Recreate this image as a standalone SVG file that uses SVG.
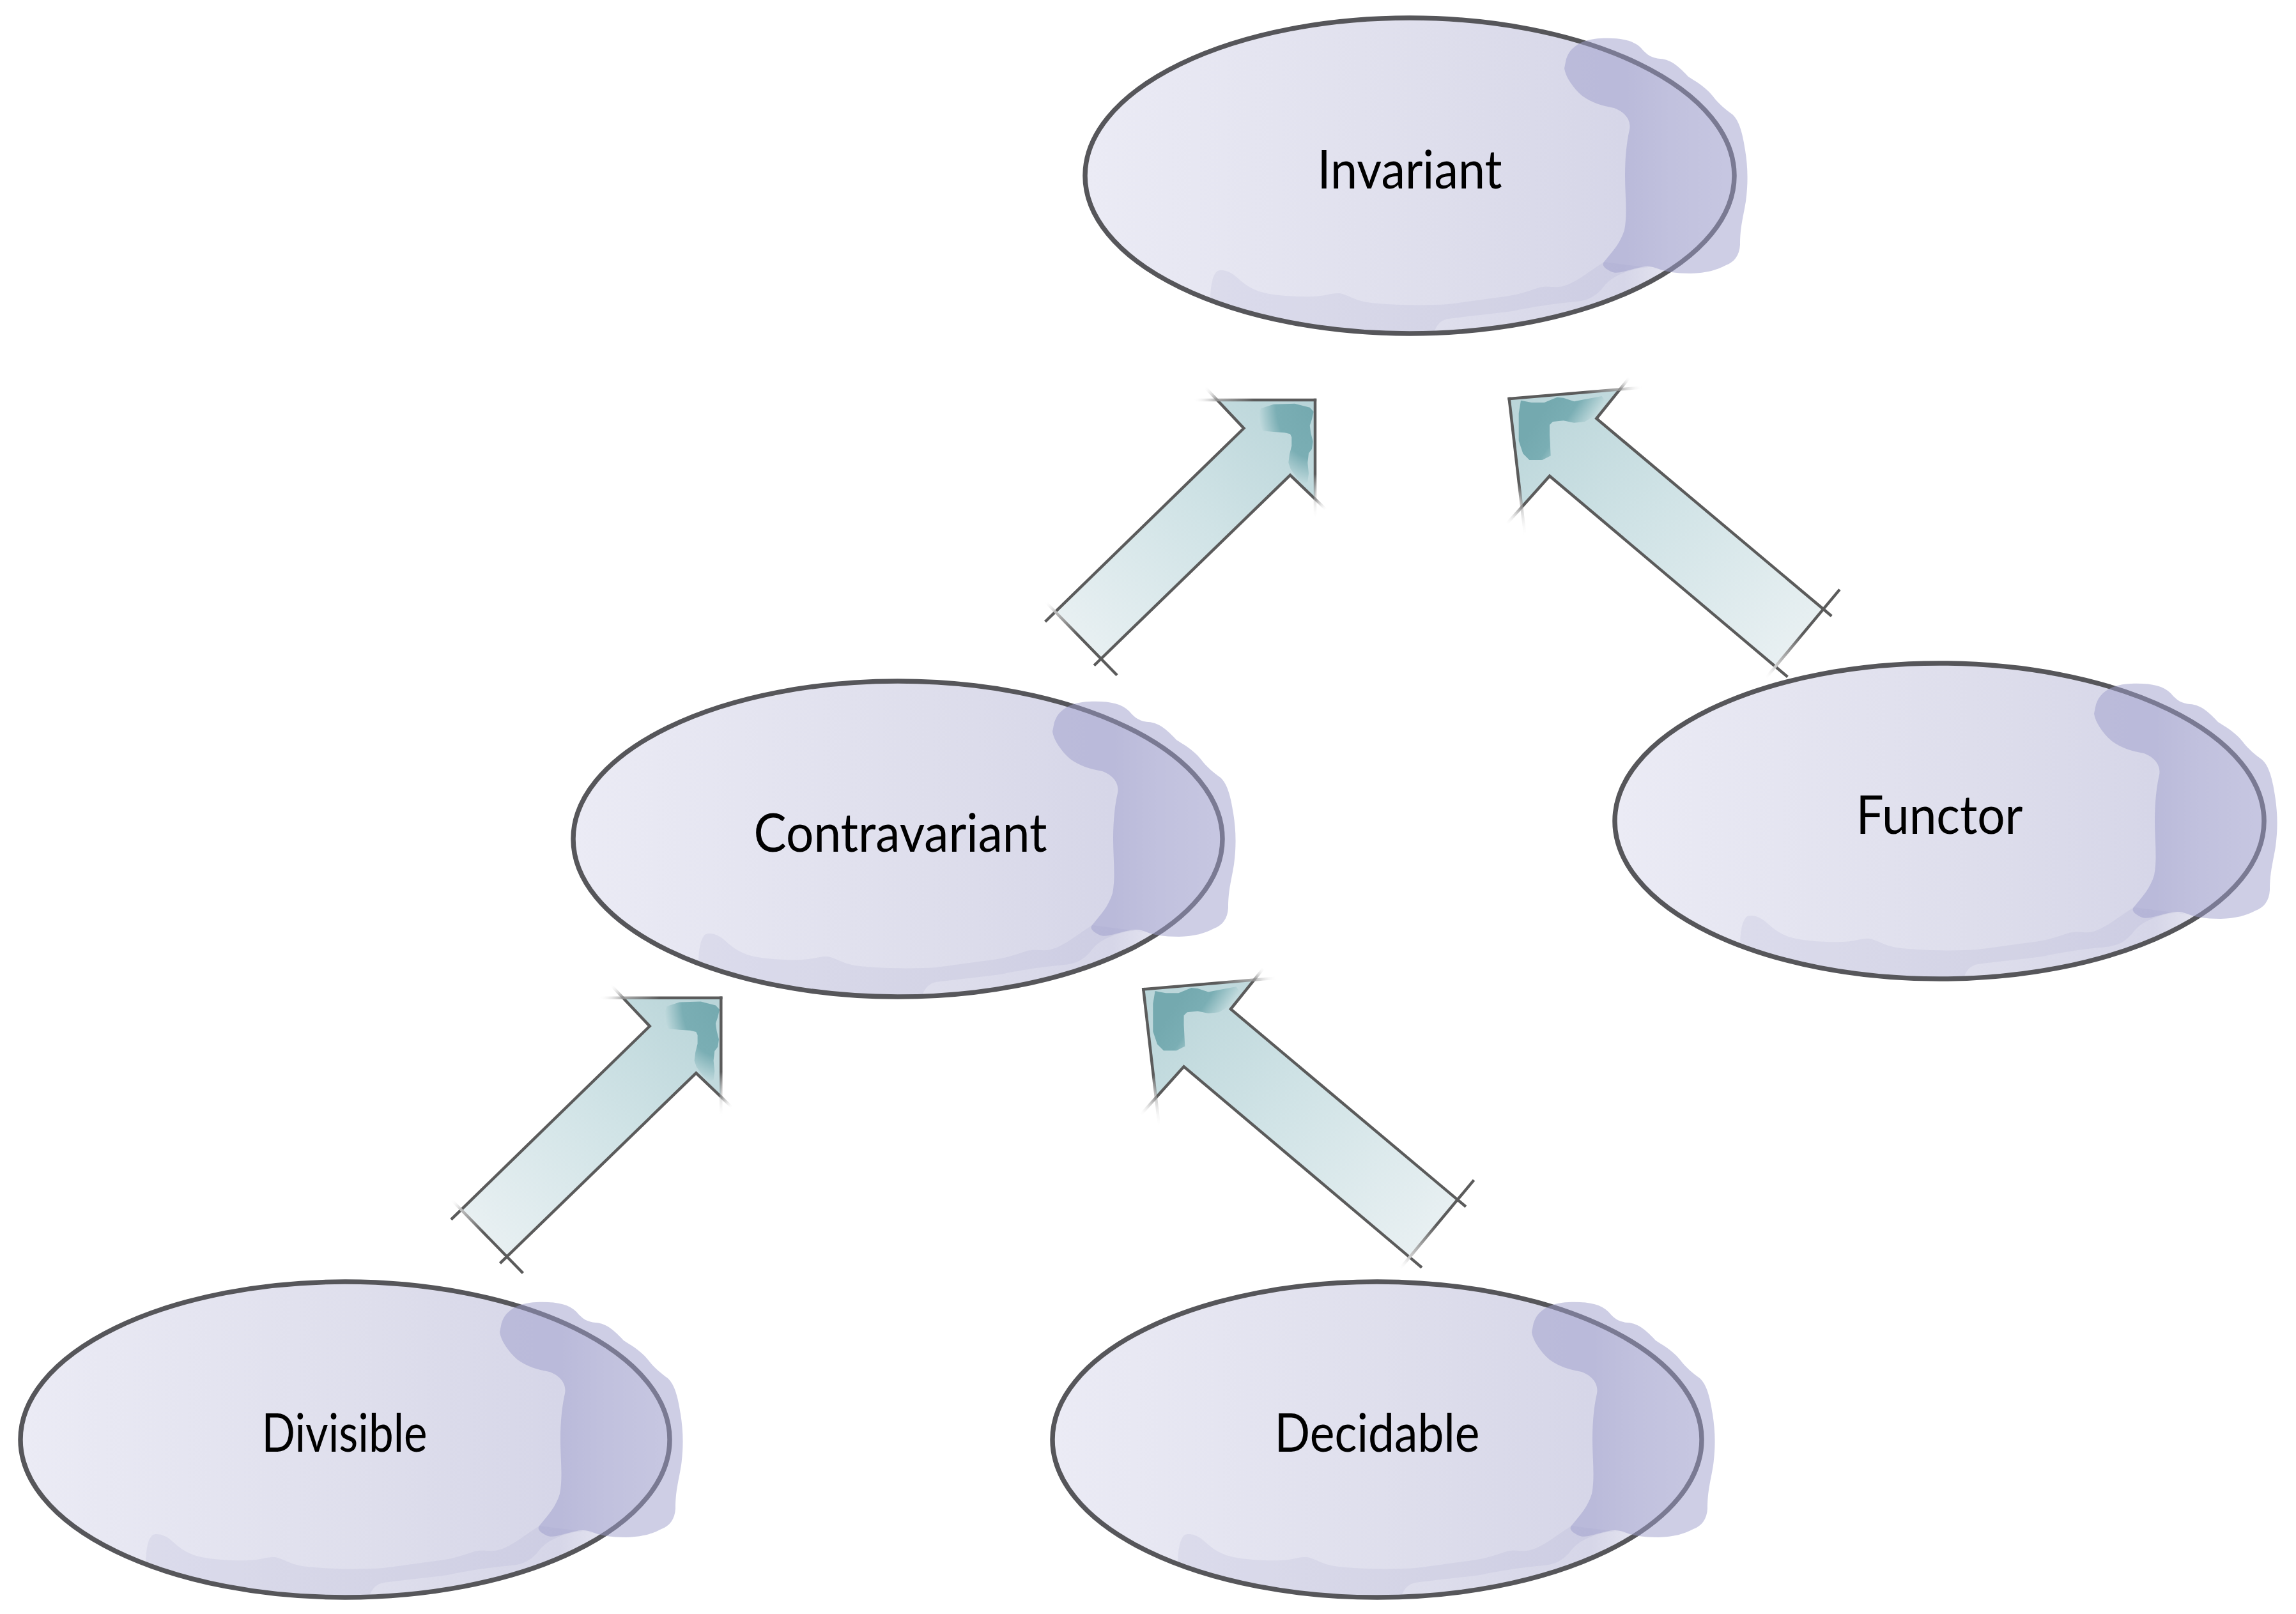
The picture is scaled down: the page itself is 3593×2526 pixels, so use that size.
<svg xmlns="http://www.w3.org/2000/svg" xmlns:xlink="http://www.w3.org/1999/xlink" width="3593" height="2526" viewBox="0 0 3593 2526">
<style>
.lbl{font-family:Lato,"Liberation Sans",Arial,sans-serif;font-size:84px;fill:#000;text-anchor:middle}
.edge{fill:none;stroke:#5b5b5b;stroke-width:4.5;stroke-linejoin:miter}
.fd{fill:none;stroke-width:4.5}
</style>
<defs>
  <linearGradient id="ellFill" x1="0" y1="0" x2="1" y2="0">
    <stop offset="0" stop-color="#ebebf5"/>
    <stop offset="0.55" stop-color="#dedeec"/>
    <stop offset="0.83" stop-color="#d6d6e8"/>
    <stop offset="0.9" stop-color="#e4e4f0"/>
    <stop offset="1" stop-color="#f0f0f7"/>
  </linearGradient>
  <clipPath id="ellClip"><ellipse cx="0" cy="0" rx="508" ry="247"/></clipPath>
  <g id="nodeShape">
    <ellipse cx="0" cy="0" rx="508" ry="247" fill="url(#ellFill)"/>
    <path clip-path="url(#ellClip)" fill="#9c9cc9" opacity="0.14" d="M304,135 C280,150 255,172 234,174 C220,175 212,172 200,176 C185,181 170,186 150,189 C125,192 100,196 60,201 C20,204 -40,202 -67,198 C-90,194 -100,184 -112,184 C-125,184 -130,188 -150,189 C-175,190 -215,188 -236,181 C-255,174 -262,166 -274,156 C-285,148 -296,146 -302,150 C-308,156 -312,170 -312,200 L-312,260 L38,260 L38,246 C42,232 50,226 60,224 C90,220 130,216 160,212 C190,206 213,202 250,198 C280,196 288,190 300,178 C310,165 318,158 340,150 C355,145 370,141 390,146 Z"/>
    <ellipse cx="0" cy="0" rx="508" ry="247" fill="none" stroke="#56565a" stroke-width="7.5"/>
    <path fill="#9e9ecb" opacity="0.5" d="M244,-178 C248,-200 268,-214 300,-215 C330,-216 350,-212 362,-200 C372,-188 380,-184 392,-183 C410,-182 424,-168 436,-155 C446,-148 460,-142 474,-125 C484,-112 494,-104 505,-96 C516,-86 521,-66 525,-40 C529,-15 530,10 526,40 C522,65 517,80 517,108 C516,125 508,135 495,140 C480,148 465,152 440,153 C415,153 400,150 390,146 C378,141 370,141 358,144 C340,148 325,155 315,150 C305,145 300,140 304,135 C318,118 330,105 336,85 C341,60 337,30 337,0 C337,-30 340,-55 344,-72 C347,-88 336,-100 320,-106 C300,-110 285,-114 270,-125 C255,-138 244,-155 242,-168 Z"/>
  </g>

  <linearGradient id="arrFillUR" x1="0" y1="1" x2="1" y2="0">
    <stop offset="0" stop-color="#ecf2f4"/>
    <stop offset="0.55" stop-color="#d0e3e6"/>
    <stop offset="1" stop-color="#b8d4d8"/>
  </linearGradient>
  <linearGradient id="arrFillUL" x1="1" y1="1" x2="0" y2="0">
    <stop offset="0" stop-color="#ecf2f4"/>
    <stop offset="0.55" stop-color="#d0e3e6"/>
    <stop offset="1" stop-color="#b8d4d8"/>
  </linearGradient>
  <radialGradient id="blobUR" cx="1" cy="0" r="1.05" fx="1" fy="0">
    <stop offset="0" stop-color="#74a9af"/>
    <stop offset="0.65" stop-color="#7aaeb4"/>
    <stop offset="1" stop-color="#c9dfe2"/>
  </radialGradient>
  <linearGradient id="blobUL" x1="0.4" y1="0" x2="1" y2="0.3">
    <stop offset="0" stop-color="#74a9af"/>
    <stop offset="0.45" stop-color="#7aaeb4"/>
    <stop offset="0.95" stop-color="#d3e5e7"/>
  </linearGradient>

  <linearGradient id="fTopUR" gradientUnits="userSpaceOnUse" x1="0" y1="0" x2="-192" y2="0">
    <stop offset="0" stop-color="#5b5b5b"/><stop offset="0.5" stop-color="#5b5b5b"/>
    <stop offset="0.8" stop-color="#9a9a9a" stop-opacity="0.8"/><stop offset="1" stop-color="#ffffff" stop-opacity="0"/>
  </linearGradient>
  <linearGradient id="fRightUR" gradientUnits="userSpaceOnUse" x1="0" y1="0" x2="0" y2="187">
    <stop offset="0" stop-color="#5b5b5b"/><stop offset="0.62" stop-color="#5b5b5b"/>
    <stop offset="1" stop-color="#ffffff" stop-opacity="0"/>
  </linearGradient>
  <linearGradient id="fBarbAUR" gradientUnits="userSpaceOnUse" x1="-153.3" y1="0" x2="-172.5" y2="-20.4">
    <stop offset="0" stop-color="#8a8a8a"/><stop offset="1" stop-color="#ffffff" stop-opacity="0"/>
  </linearGradient>
  <linearGradient id="fBarbBUR" gradientUnits="userSpaceOnUse" x1="0" y1="155" x2="18" y2="172.3">
    <stop offset="0" stop-color="#8a8a8a"/><stop offset="1" stop-color="#ffffff" stop-opacity="0"/>
  </linearGradient>
  <linearGradient id="fTailUR" gradientUnits="userSpaceOnUse" x1="-422" y1="315.8" x2="-309.9" y2="430.8">
    <stop offset="0" stop-color="#ffffff" stop-opacity="0"/><stop offset="0.15" stop-color="#bbbbbb"/>
    <stop offset="0.45" stop-color="#5b5b5b"/><stop offset="1" stop-color="#5b5b5b"/>
  </linearGradient>

  <linearGradient id="fTopUL" gradientUnits="userSpaceOnUse" x1="0" y1="0" x2="209.3" y2="-17.7">
    <stop offset="0" stop-color="#5b5b5b"/><stop offset="0.55" stop-color="#5b5b5b"/>
    <stop offset="0.82" stop-color="#9a9a9a" stop-opacity="0.8"/><stop offset="1" stop-color="#ffffff" stop-opacity="0"/>
  </linearGradient>
  <linearGradient id="fLeftUL" gradientUnits="userSpaceOnUse" x1="0" y1="0" x2="25" y2="216">
    <stop offset="0" stop-color="#5b5b5b"/><stop offset="0.62" stop-color="#5b5b5b"/>
    <stop offset="1" stop-color="#ffffff" stop-opacity="0"/>
  </linearGradient>
  <linearGradient id="fBarbAUL" gradientUnits="userSpaceOnUse" x1="173.3" y1="-14.7" x2="188.9" y2="-34.2">
    <stop offset="0" stop-color="#8a8a8a"/><stop offset="1" stop-color="#ffffff" stop-opacity="0"/>
  </linearGradient>
  <linearGradient id="fBarbBUL" gradientUnits="userSpaceOnUse" x1="20" y1="169.3" x2="-5.4" y2="197.6">
    <stop offset="0" stop-color="#8a8a8a"/><stop offset="1" stop-color="#ffffff" stop-opacity="0"/>
  </linearGradient>
  <linearGradient id="fTailUL" gradientUnits="userSpaceOnUse" x1="517.2" y1="298.6" x2="400.6" y2="438.5">
    <stop offset="0" stop-color="#5b5b5b"/><stop offset="0.5" stop-color="#5b5b5b"/>
    <stop offset="0.85" stop-color="#cccccc"/><stop offset="1" stop-color="#ffffff" stop-opacity="0"/>
  </linearGradient>

  <g id="arrowUR">
    <path d="M0,0 L-153.3,0 L-111.6,44.3 L-406.6,331.6 L-335,405 L-39,117.6 L0,155 Z" fill="url(#arrFillUR)"/>
    <path fill="url(#blobUR)" d="M-85,13.3 L-65,6.7 L-31.7,5.7 L-8.3,11.7 L-2.3,18.3 L-5,30 L-8.3,40 L-6.7,51.7 L-3.3,65 L-5,76.7 L-10,83.3 L-11.7,98.3 L-10,115 L-11.7,128.3 L-18.3,131.7 L-28.3,121.7 L-38.3,108.3 L-41.7,98.3 L-40,85 L-36.7,71.7 L-36.7,58.3 L-39,53.3 L-48.3,51 L-65,50 L-81.7,48.3 L-88.3,35 L-88.3,25 Z"/>
    <path class="edge" d="M-422.4,347 L-406.6,331.6 L-111.6,44.3 L-153.3,0"/>
    <path class="edge" d="M-345.8,415.5 L-335,405 L-39,117.6 L0,155"/>
    <line class="fd" x1="2.2" y1="0" x2="-192" y2="0" stroke="url(#fTopUR)"/>
    <line class="fd" x1="0" y1="-2.2" x2="0" y2="187" stroke="url(#fRightUR)"/>
    <line class="fd" x1="-153.3" y1="0" x2="-172.5" y2="-20.4" stroke="url(#fBarbAUR)"/>
    <line class="fd" x1="0" y1="155" x2="18" y2="172.3" stroke="url(#fBarbBUR)"/>
    <line class="fd" x1="-422" y1="315.8" x2="-309.9" y2="430.8" stroke="url(#fTailUR)"/>
  </g>

  <g id="arrowUL">
    <path d="M0,0 L173.3,-14.7 L136.6,31 L491.6,329.3 L416.6,419.3 L63.3,121 L20,169.3 Z" fill="url(#arrFillUL)"/>
    <path fill="url(#blobUL)" d="M18.3,2.7 L35,6 L55,6 L75,-2.3 L85,-1.3 L101.6,4.3 L118.3,1 L145,-4 L150,2.7 L148.3,9.3 L135,26 L118.3,36 L101.6,37.7 L85,34.3 L68.3,36 L63.3,41 L63.3,56 L65,89.3 L51.7,96 L31.7,96 L21.7,86 L15,66 L15,22.7 Z"/>
    <path class="edge" d="M173.3,-14.7 L136.6,31 L491.6,329.3 L504.6,340.2"/>
    <path class="edge" d="M435.7,435.4 L416.6,419.3 L63.3,121 L20,169.3"/>
    <line class="fd" x1="-2.2" y1="0.2" x2="209.3" y2="-17.7" stroke="url(#fTopUL)"/>
    <line class="fd" x1="-0.3" y1="-2.2" x2="25" y2="216" stroke="url(#fLeftUL)"/>
    <line class="fd" x1="173.3" y1="-14.7" x2="188.9" y2="-34.2" stroke="url(#fBarbAUL)"/>
    <line class="fd" x1="20" y1="169.3" x2="-5.4" y2="197.6" stroke="url(#fBarbBUL)"/>
    <line class="fd" x1="517.2" y1="298.6" x2="400.6" y2="438.5" stroke="url(#fTailUL)"/>
  </g>
</defs>

<rect x="0" y="0" width="3593" height="2526" fill="#ffffff"/>

<g id="node-invariant" transform="translate(2206,275)">
  <use href="#nodeShape" xlink:href="#nodeShape"/>
  <text class="lbl" x="0" y="20" textLength="289" lengthAdjust="spacingAndGlyphs">Invariant</text>
</g>
<g id="node-contravariant" transform="translate(1405,1313)">
  <use href="#nodeShape" xlink:href="#nodeShape"/>
  <text class="lbl" x="4" y="20" textLength="459" lengthAdjust="spacingAndGlyphs">Contravariant</text>
</g>
<g id="node-functor" transform="translate(3035,1285)">
  <use href="#nodeShape" xlink:href="#nodeShape"/>
  <text class="lbl" x="0" y="20" textLength="261" lengthAdjust="spacingAndGlyphs">Functor</text>
</g>
<g id="node-divisible" transform="translate(540,2253)">
  <use href="#nodeShape" xlink:href="#nodeShape"/>
  <text class="lbl" x="-1" y="19" textLength="259" lengthAdjust="spacingAndGlyphs">Divisible</text>
</g>
<g id="node-decidable" transform="translate(2155,2253)">
  <use href="#nodeShape" xlink:href="#nodeShape"/>
  <text class="lbl" x="0" y="19" textLength="321" lengthAdjust="spacingAndGlyphs">Decidable</text>
</g>

<g id="connectors">
  <use id="edge-contravariant-invariant" href="#arrowUR" xlink:href="#arrowUR" transform="translate(2058,626)"/>
  <use id="edge-functor-invariant" href="#arrowUL" xlink:href="#arrowUL" transform="translate(2361.7,624)"/>
  <use id="edge-divisible-contravariant" href="#arrowUR" xlink:href="#arrowUR" transform="translate(1128.3,1561.7)"/>
  <use id="edge-decidable-contravariant" href="#arrowUL" xlink:href="#arrowUL" transform="translate(1789.3,1548.3)"/>
</g>
</svg>
